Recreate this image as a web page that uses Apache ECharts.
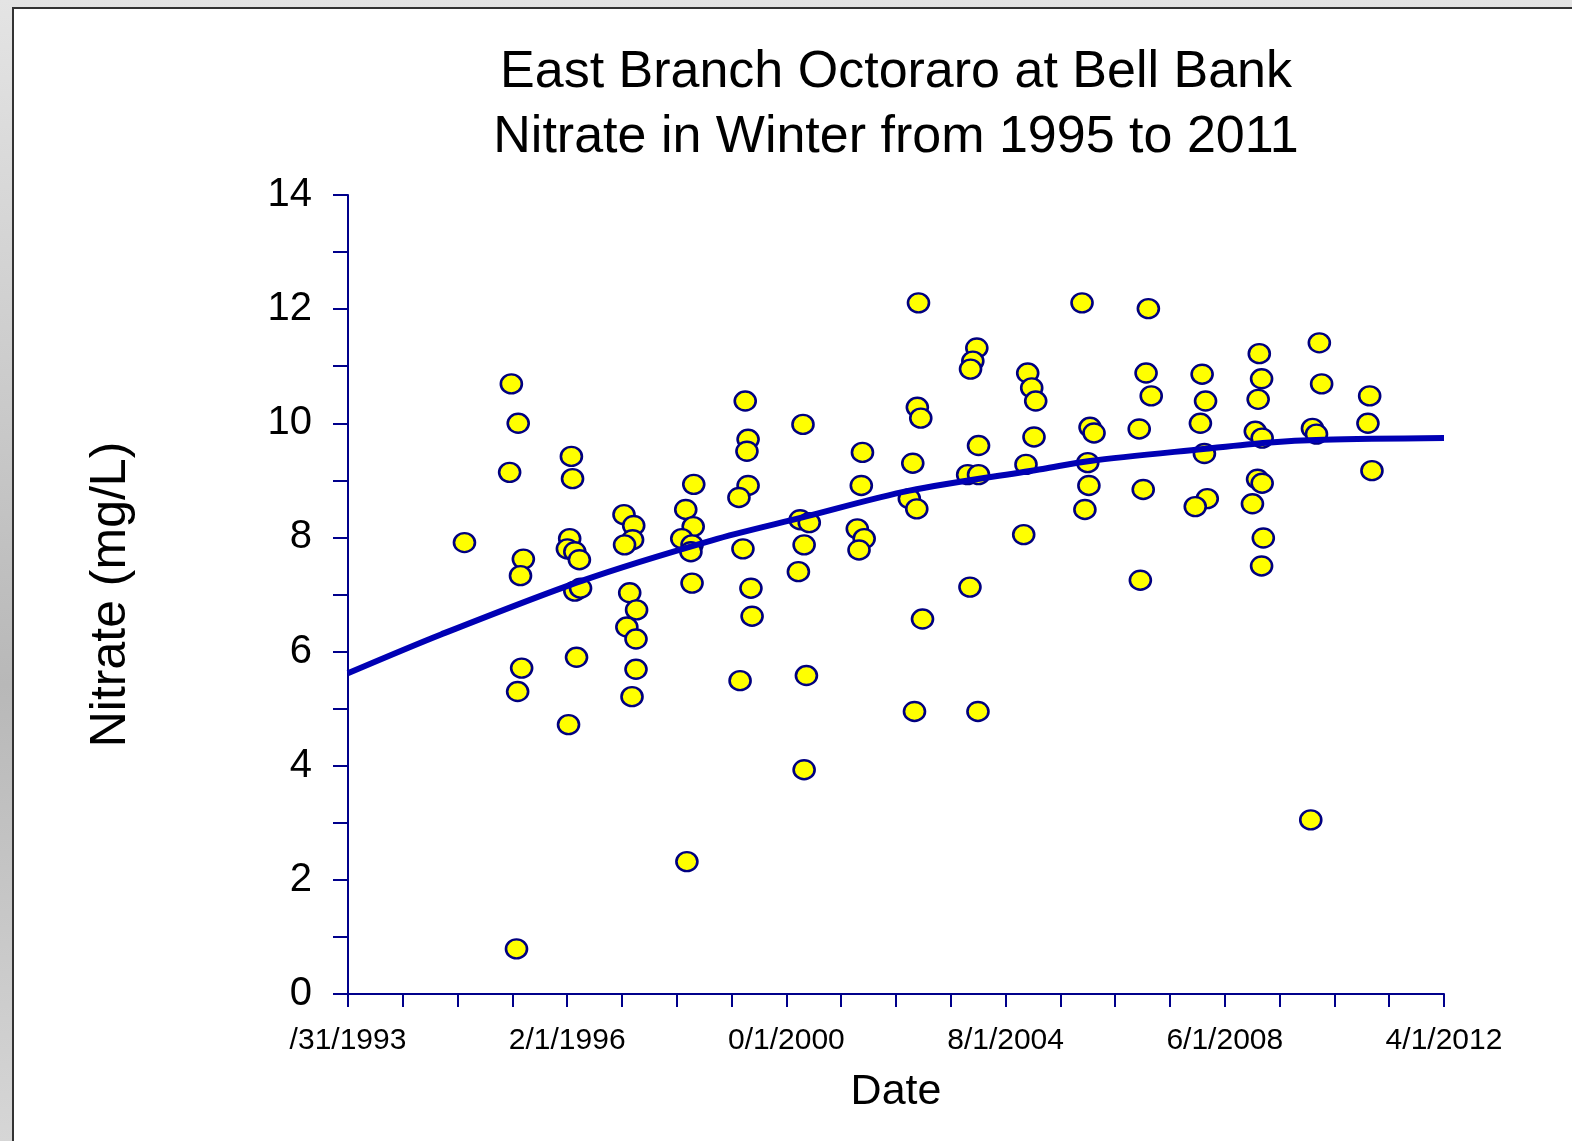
<!DOCTYPE html>
<html>
<head>
<meta charset="UTF-8">
<title>East Branch Octoraro at Bell Bank - Nitrate</title>
<script src="https://cdn.jsdelivr.net/npm/echarts@6/dist/echarts.min.js"></script>
<style>
html, body {
    margin: 0;
    padding: 0;
    width: 1572px;
    height: 1141px;
    overflow: hidden;
    background: linear-gradient(180deg, #e4e4e4 0%, #b8b8b8 60%, #d6d6d6 100%);
}
#frame {
    position: absolute;
    left: 12px;
    top: 7px;
    width: 1560px;
    height: 1134px;
    background: #fff;
    border-left: 2px solid #333;
    border-top: 2px solid #333;
}
#main {
    width: 1558px;
    height: 1132px;
}
</style>
</head>
<body>
<div id="frame"><div id="main"></div></div>
<script>
// sample dates as decimal years, values in mg/L (one line per winter)
var sampleDates = [
    1995.12,
    1995.94, 1996.06, 1995.91, 1996.15, 1996.10, 1996.12, 1996.05, 1996.03,
    1996.99, 1997.01, 1996.96, 1996.92, 1997.05, 1997.13, 1997.05, 1997.15, 1997.08, 1996.94,
    1997.91, 1998.08, 1998.06, 1997.92, 1998.01, 1998.13, 1997.96, 1998.12, 1998.12, 1998.05,
    1999.13, 1998.99, 1999.12, 1998.92, 1999.10, 1999.08, 1999.10, 1999.01,
    2000.03, 2000.08, 2000.06, 2000.08, 1999.92, 1999.99, 2000.13, 2000.15, 1999.94,
    2001.04, 2000.99, 2001.15, 2001.06, 2000.96, 2001.10, 2001.06,
    2002.08, 2002.06, 2001.99, 2002.11, 2002.02,
    2003.06, 2003.04, 2003.10, 2002.96, 2002.90, 2003.03, 2003.13, 2002.99,
    2004.08, 2004.01, 2003.97, 2004.11, 2003.92, 2004.11, 2003.96, 2004.10,
    2004.97, 2005.04, 2005.11, 2005.08, 2004.94, 2004.90,
    2005.92, 2006.06, 2006.13, 2006.02, 2006.04, 2005.97,
    2007.08, 2007.04, 2007.13, 2006.92, 2006.99, 2006.94,
    2008.02, 2008.08, 2007.99, 2008.06, 2008.11, 2007.90,
    2009.02, 2009.06, 2009.00, 2008.95, 2009.07, 2008.99, 2009.07, 2008.90, 2009.09, 2009.06,
    2010.07, 2010.11, 2009.95, 2010.02, 2009.92,
    2010.95, 2010.92, 2010.99
];
var nitrate = [
    7.91,
    10.69, 10.00, 9.14, 7.62, 7.33, 5.71, 5.30, 0.79,
    9.42, 9.03, 7.98, 7.80, 7.75, 7.61, 7.06, 7.11, 5.90, 4.72,
    8.40, 8.21, 7.96, 7.87, 7.03, 6.73, 6.43, 6.22, 5.69, 5.21,
    8.93, 8.49, 8.19, 7.98, 7.87, 7.75, 7.20, 2.32,
    10.39, 9.72, 9.51, 8.91, 8.70, 7.80, 7.11, 6.62, 5.49,
    9.98, 8.31, 8.26, 7.87, 7.40, 5.58, 3.93,
    9.49, 8.91, 8.15, 7.98, 7.78,
    12.11, 10.28, 10.09, 9.30, 8.68, 8.50, 6.57, 4.95,
    11.32, 11.09, 10.95, 9.61, 9.10, 9.10, 7.13, 4.95,
    10.88, 10.62, 10.39, 9.76, 9.28, 8.05,
    12.11, 9.93, 9.83, 9.31, 8.91, 8.49,
    12.01, 10.88, 10.48, 9.90, 8.84, 7.25,
    10.86, 10.39, 10.00, 9.47, 8.68, 8.54,
    11.22, 10.78, 10.42, 9.86, 9.74, 9.02, 8.95, 8.59, 7.99, 7.50,
    11.41, 10.69, 9.91, 9.81, 3.05,
    10.48, 10.00, 9.17
];

// smoothed trend
var trendDates  = [1993.08, 1994.71, 1997.17, 1999.45, 2001.03, 2002.90, 2005.23, 2006.06, 2008.04, 2009.15, 2010.14, 2012.25];
var trendValues = [5.62, 6.30, 7.24, 7.95, 8.35, 8.82, 9.20, 9.34, 9.55, 9.66, 9.71, 9.74];

var xTickLabels = ['/31/1993', '2/1/1996', '0/1/2000', '8/1/2004', '6/1/2008', '4/1/2012'];
var yTickLabels = ['0', '2', '4', '6', '8', '10', '12', '14'];

// x axis runs in months from 1/31/1993 to 4/1/2012
var START_YEAR = 1993 + 1 / 12;
var TICK_MONTHS = 11.5;
function toMonths(y) { return (y - START_YEAR) * 12; }

var points = sampleDates.map(function (d, i) { return [toMonths(d), nitrate[i]]; });
var trend = trendDates.map(function (d, i) { return [toMonths(d), trendValues[i]]; });

var font = '"Liberation Sans", Arial, sans-serif';
var axisBlue = '#00008b';

var myChart = echarts.init(document.getElementById('main'));
var option = {
    animation: false,
    title: {
        text: 'East Branch Octoraro at Bell Bank\nNitrate in Winter from 1995 to 2011',
        left: 877,
        top: 26,
        textAlign: 'center',
        textStyle: {
            fontFamily: font,
            fontWeight: 'normal',
            fontSize: 52,
            lineHeight: 65,
            color: '#000'
        }
    },
    grid: {
        left: 334,
        right: 128,
        top: 186,
        bottom: 147
    },
    xAxis: {
        type: 'value',
        min: 0,
        max: 230,
        interval: TICK_MONTHS,
        name: 'Date',
        nameLocation: 'middle',
        nameGap: 77,
        nameTextStyle: { fontFamily: font, fontSize: 43, color: '#000' },
        axisLine: { lineStyle: { color: axisBlue, width: 2 } },
        axisTick: { show: true, length: 13, lineStyle: { color: axisBlue, width: 2 } },
        splitLine: { show: false },
        axisLabel: {
            margin: 32,
            fontFamily: font,
            fontSize: 30,
            color: '#000',
            formatter: function (v) {
                var k = Math.round(v / TICK_MONTHS);
                return k % 4 === 0 ? (xTickLabels[k / 4] || '') : '';
            }
        }
    },
    yAxis: {
        type: 'value',
        min: 0,
        max: 14,
        interval: 1,
        name: 'Nitrate (mg/L)',
        nameLocation: 'middle',
        nameGap: 212,
        nameTextStyle: { fontFamily: font, fontSize: 50, color: '#000' },
        axisLine: { show: true, lineStyle: { color: axisBlue, width: 2 } },
        axisTick: { show: true, length: 15, lineStyle: { color: axisBlue, width: 2 } },
        splitLine: { show: false },
        axisLabel: {
            margin: 36,
            fontFamily: font,
            fontSize: 40,
            color: '#000',
            formatter: function (v) {
                return v % 2 === 0 ? yTickLabels[v / 2] : '';
            }
        }
    },
    series: [
        {
            name: 'Nitrate',
            type: 'scatter',
            data: points,
            symbol: 'circle',
            symbolSize: [21, 19],
            itemStyle: { color: '#ffff00', borderColor: '#000080', borderWidth: 2.5, opacity: 1 }
        },
        {
            name: 'Trend',
            type: 'line',
            data: trend,
            smooth: 0.3,
            showSymbol: false,
            symbol: 'none',
            lineStyle: { color: '#0000b4', width: 6 },
            z: 3
        }
    ]
};
myChart.setOption(option);
</script>
</body>
</html>
